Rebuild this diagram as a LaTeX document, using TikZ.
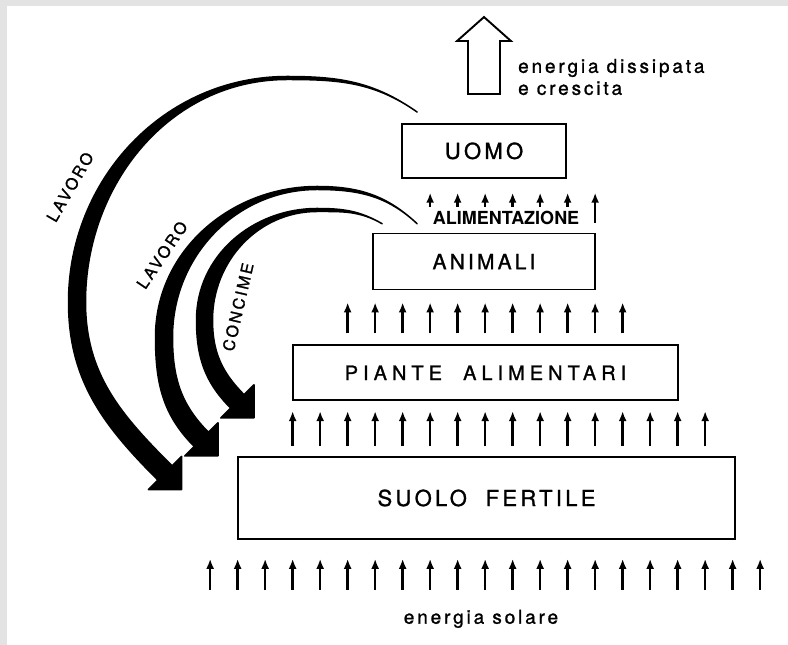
\documentclass[tikz,border=0pt]{standalone}
\usepackage{fontspec}
\setmainfont{TeX Gyre Heros}
\newfontfamily\spaziato[LetterSpace=15,FakeBold=1.2]{TeX Gyre Heros}
\newfontfamily\spaziatolargo[LetterSpace=25,FakeBold=1.2]{TeX Gyre Heros}
\usetikzlibrary{arrows.meta,positioning,calc}
\tikzset{
  livello/.style={rectangle, draw, line width=1.7pt, inner sep=0pt,
    font=\spaziato\fontsize{22}{24}\selectfont},
  freccia/.style={-{Latex[length=10pt,width=8pt]}, line width=2.6pt},
  curva/.style={fill=black, draw=black, line width=1.5pt, line join=round},
  cava/.style={draw, line width=1.9pt, fill=white},
  arco/.style={inner sep=0pt, font=\spaziato\fontsize{16}{18}\selectfont},
  testo/.style={inner sep=0pt, font=\spaziato\fontsize{19}{22}\selectfont}
}

\begin{document}
\begin{tikzpicture}[x=1pt, y=1pt]

% sfondo
\fill[gray!22] (0,0) rectangle (788,645);
\fill[white] (7,0) rectangle (788,639);
\useasboundingbox (0,0) rectangle (788,645);

%LIVELLI
\node[livello, minimum width=497pt, minimum height=82pt] (suolo) at (486.5,147) {SUOLO\ \ FERTILE};

\node[livello, minimum width=385pt, minimum height=55pt,
  above=55pt of suolo, xshift=-1pt,
  font=\spaziatolargo\fontsize{20}{22}\selectfont] (piante) {PIANTE\ \ ALIMENTARI};

\node[livello, minimum width=222pt, minimum height=56pt,
  above=54pt of piante, xshift=-1.5pt,
  font=\spaziato\fontsize{21}{23}\selectfont] (animali) {ANIMALI};

\node[livello, minimum width=164pt, minimum height=54pt,
  above=54pt of animali] (uomo) {UOMO};

%FRECCE VERTICALI
\foreach \k in {0,...,20}
  \draw[freccia] ($(suolo.south west)+(-27+27.5*\k,-50)$) -- ++(0,31);

\foreach \k in {0,...,15}
  \draw[freccia] ($(piante.south west)+(0.5+27.5*\k,-45)$) -- ++(0,35);

\foreach \k in {0,...,10}
  \draw[freccia] ($(animali.south west)+(-24.5+27.5*\k,-43)$) -- ++(0,31);

\foreach \k in {0,...,5}
  \draw[freccia] ($(uomo.south west)+(29+27.5*\k,-28)$) -- ++(0,14);
\draw[freccia] ($(uomo.south west)+(194,-44)$) -- ++(0,30);

\node[inner sep=0pt, font=\bfseries\fontsize{18}{20}\selectfont]
  (alimentazione) at ($(uomo.south)+(22,-39)$) {ALIMENTAZIONE};

\node[testo] (solare) at ($(suolo.south)+(-5.5,-79)$) {energia solare};

%ENERGIA DISSIPATA
\draw[cava] ($(uomo.north)+(-16,29)$) -- ++(0,53) -- ++(-11,0) -- ++(27,24)
  -- ++(27,-24) -- ++(-11,0) -- ++(0,-53) -- cycle;

\node[testo, align=left, anchor=west] (dissipata) at ($(uomo.north)+(34,46)$)
  {energia dissipata\\e crescita};

%LAVORO (uomo)
\coordinate (l1) at ($(uomo.north west)+(16,11)$);
\filldraw[curva] (l1) to[out=145,in=0] (287,568.5) to[out=180,in=90] (68.5,343)
  to[out=270,in=135] (157.9,164.9) -- (148.4,155.4) -- (181.6,155.4) -- (181.6,188.6)
  -- (172.1,179.1) to[out=135,in=270] (85.5,343) to[out=90,in=180] (287,565.5)
  to[out=0,in=145] (l1) -- cycle;

\node[arco, rotate=60] (lavoro1) at (70,458) {LAVORO};

%LAVORO (animali)
\coordinate (l2) at ($(animali.north west)+(45,9)$);
\filldraw[curva] (l2) to[out=137,in=0] (317,458.5) to[out=180,in=90] (155.5,308)
  to[out=270,in=135] (194.3,198.5) -- (184.8,189) -- (218,189) -- (218,222.2)
  -- (208.5,212.7) to[out=135,in=270] (172.5,308) to[out=90,in=180] (317,455.5)
  to[out=0,in=137] (l2) -- cycle;

\node[arco, rotate=56] (lavoro2) at (162,390) {LAVORO};

%CONCIME
\coordinate (c1) at ($(animali.north west)+(10,9)$);
\filldraw[curva] (c1) to[out=150,in=0] (317,436.5) to[out=180,in=90] (196.5,325)
  to[out=270,in=135] (230.7,236.9) -- (220.8,227) -- (254,227) -- (254,260.2)
  -- (244.1,250.3) to[out=135,in=270] (212.5,325) to[out=90,in=180] (317,433.5)
  to[out=0,in=150] (c1) -- cycle;

\node[arco, rotate=77] (concime) at (238,338) {CONCIME};

\end{tikzpicture}
\end{document}
